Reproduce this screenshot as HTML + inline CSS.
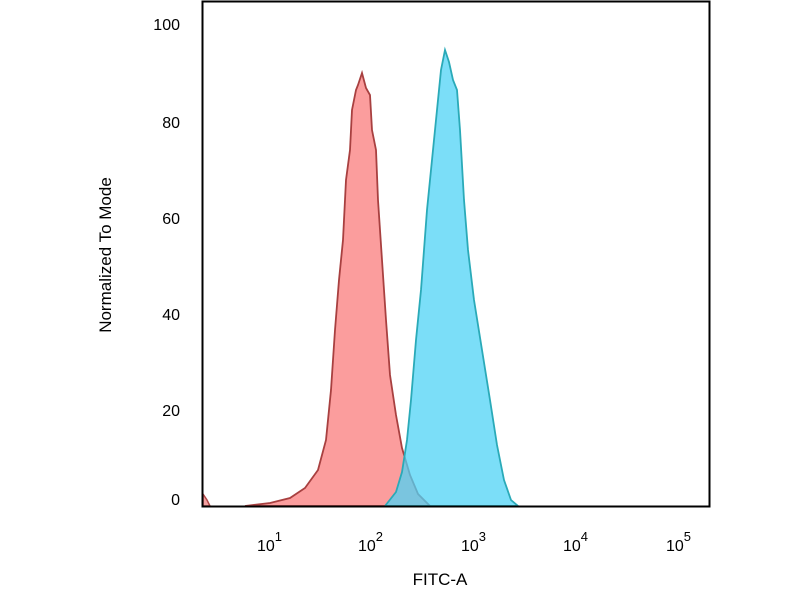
<!DOCTYPE html>
<html><head><style>body{margin:0;background:#fff;}svg{display:block;font-family:"Liberation Sans",sans-serif;}</style></head>
<body>
<svg width="800" height="600" viewBox="0 0 800 600">
<path d="M203,494 L207,500 L210,506 L203,506 Z" fill="#f4a0a0" stroke="#b04848" stroke-width="1.5"/>
<path d="M245,506 L270,503 L290,498 L305,488 L318,470 L326,440 L331,390 L335,330 L339,280 L343,240 L346,180 L350,150 L352,110 L356,90 L358,85 L362,73 L366,88 L370,95 L372,130 L376,150 L378,200 L382,260 L386,320 L390,375 L396,415 L402,448 L410,475 L418,494 L430,506 Z" fill="#fa8c8c" fill-opacity="0.85" stroke="#a84040" stroke-width="1.8"/>
<path d="M385,506 L396,492 L402,472 L407,440 L411,400 L416,340 L421,290 L427,210 L432,160 L437,110 L441,70 L445,50 L449,62 L453,80 L457,90 L460,130 L464,200 L468,250 L474,300 L482,350 L490,400 L497,445 L504,480 L511,500 L518,506 Z" fill="#4fd3f5" fill-opacity="0.75" stroke="#2aaab8" stroke-width="1.8"/>
<rect x="202.5" y="1.5" width="507" height="505" fill="none" stroke="#000" stroke-width="2"/>
<g font-size="16" fill="#000" text-anchor="end">
<text x="180" y="30">100</text><text x="180" y="128">80</text><text x="180" y="224">60</text><text x="180" y="320">40</text><text x="180" y="416">20</text><text x="180" y="505">0</text>
</g>
<g font-size="16" fill="#000">
<text x="257" y="551">10<tspan dy="-10" font-size="13">1</tspan></text>
<text x="358" y="551">10<tspan dy="-10" font-size="13">2</tspan></text>
<text x="461" y="551">10<tspan dy="-10" font-size="13">3</tspan></text>
<text x="563" y="551">10<tspan dy="-10" font-size="13">4</tspan></text>
<text x="666" y="551">10<tspan dy="-10" font-size="13">5</tspan></text>
<text x="440" y="585" text-anchor="middle" font-size="17">FITC-A</text>
<text transform="translate(111,255) rotate(-90)" text-anchor="middle" font-size="17">Normalized To Mode</text>
</g>
</svg>
</body></html>
